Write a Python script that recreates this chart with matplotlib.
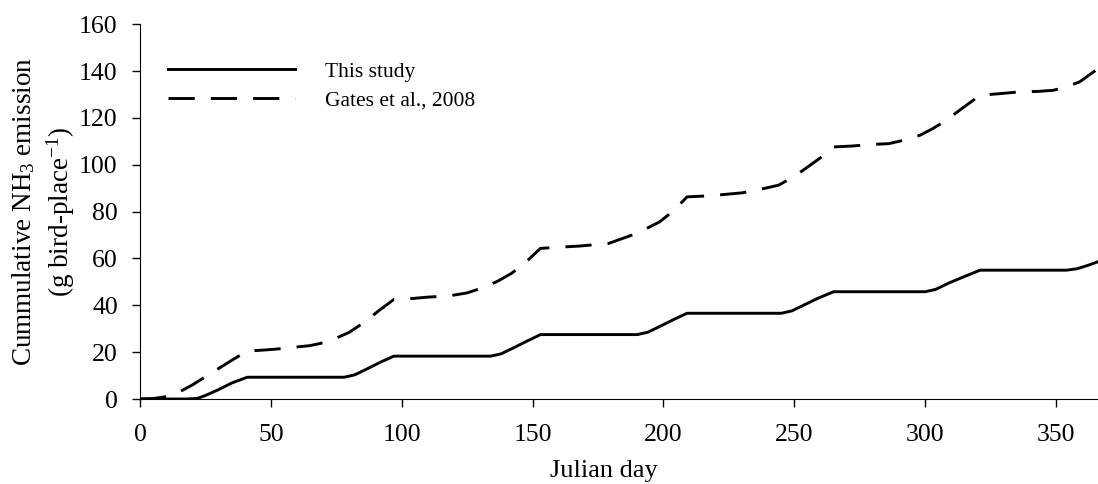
import numpy as np
import matplotlib
matplotlib.use("Agg")
import matplotlib.pyplot as plt

plt.rcParams['font.family'] = ['Liberation Serif', 'DejaVu Serif']
plt.rcParams['mathtext.default'] = 'regular'

# this study (day, cumulative g/bird-place)
study_day = [0, 18, 22, 25, 30, 35, 41, 78, 82, 87, 92, 97, 134, 138, 143, 148, 153,
             190, 194, 199, 204, 209, 245, 249, 254, 259, 265, 300, 304, 309, 315, 321,
             354, 358, 362, 366]
study_val = [0, 0, 0.3, 1.5, 4, 6.8, 9.3, 9.3, 10.3, 13, 15.8, 18.3, 18.3, 19.3, 22, 24.8, 27.5,
             27.5, 28.5, 31.2, 34, 36.6, 36.6, 37.6, 40.3, 43, 45.8, 45.8, 46.8, 49.5, 52.3, 55,
             55, 55.6, 57, 58.6]

# Gates et al., 2008
gates_day = [0, 5, 10, 15, 20, 25, 30, 35, 41, 46, 52, 58, 65, 70, 75, 80, 86, 91, 97,
             103, 110, 118, 125, 132, 137, 142, 147, 153, 160, 168, 179, 188, 193, 198.5,
             204, 209, 215, 222, 230, 237, 244, 250, 255, 260, 265, 272, 280, 286, 292,
             298, 303, 308, 314, 321, 328, 336, 343, 349, 354, 359, 366]
gates_val = [0, 0.2, 1, 3, 6, 9.5, 13, 16.5, 20.5, 20.8, 21.3, 22, 22.8, 24, 26, 28.5, 33,
             37.5, 42.5, 42.8, 43.5, 44, 45.3, 47.9, 50.5, 53.7, 58, 64.3, 64.8, 65.3, 66.4,
             70, 72.5, 75.6, 80.5, 86.3, 86.6, 87.2, 88, 89.5, 91.3, 95, 99, 103, 107.6, 108,
             108.7, 109, 110.5, 112.6, 115.5, 119, 124, 129.7, 130.3, 131.1, 131.3, 131.8,
             133.3, 135.4, 141]

fig = plt.figure(figsize=(10.98, 4.84), dpi=100)
ax = fig.add_axes([0.1275, 0.1756, 0.8725, 0.7744])

ax.plot(study_day, study_val, color='black', lw=2.1, label='This study')
ax.plot(gates_day, gates_val, color='black', lw=2.1, dashes=(9, 5.5), label='Gates et al., 2008')

ax.set_xlim(0, 366)
ax.set_ylim(0, 160)
ax.set_xticks(np.arange(0, 351, 50))
ax.set_yticks(np.arange(0, 161, 20))
ax.spines['top'].set_visible(False)
ax.spines['right'].set_visible(False)
ax.tick_params(direction='out', length=6, width=1, labelsize=18.5)
ax.tick_params(axis='x', pad=12)
ax.tick_params(axis='y', pad=10)

ax.set_xlabel('Julian day', fontsize=19)
ax.xaxis.set_label_coords(0.484, -0.163)
ax.set_ylabel('Cummulative NH$_3$ emission\n(g bird-place$^{-1}$)', fontsize=19.5,
              linespacing=1.3)
ax.yaxis.set_label_coords(-0.066, 0.5)

ax.legend(loc='upper left', bbox_to_anchor=(0.029, 0.90), frameon=False, fontsize=15.5,
          handlelength=5.9, handletextpad=1.4, labelspacing=0.4,
          borderpad=0, borderaxespad=0)

fig.savefig('out.png', dpi=100)
